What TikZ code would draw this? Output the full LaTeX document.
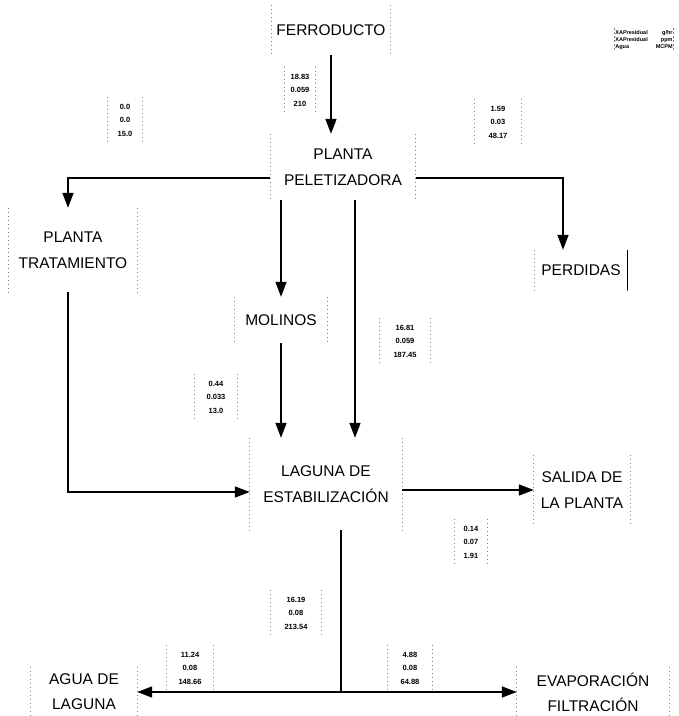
\documentclass[tikz,border=0pt]{standalone}
\usepackage{fontspec}
\setmainfont{Liberation Sans}
\usetikzlibrary{arrows.meta}
\tikzset{
  sidel/.style={draw=black!50, line width=0.7pt, dash pattern=on 1.5pt off 2.5pt},
  sides/.style={append after command={(\tikzlastnode.north west) edge[sidel] (\tikzlastnode.south west)
      (\tikzlastnode.north east) edge[sidel] (\tikzlastnode.south east)}},
  mainbox/.style={sides, align=center, font=\fontsize{15.5}{26}\selectfont, inner sep=0pt},
  val/.style={sides, align=center, font=\fontsize{7.5}{13.5}\selectfont\bfseries, inner sep=0pt, minimum height=46pt},
  tip/.tip={Triangle[length=15pt,width=11pt]},
  arr/.style={line width=1.7pt, -tip},
  arrtwo/.style={line width=1.7pt, tip-tip},
  plain/.style={line width=1.7pt},
}
\begin{document}
\begin{tikzpicture}[x=1pt,y=-1pt]
\useasboundingbox (0,0) rectangle (679,716);
% main boxes
\node[mainbox, minimum width=118pt, minimum height=50pt] (ferro) at (331,30) {FERRODUCTO};
\node[mainbox, minimum width=145pt, minimum height=66pt] (pel) at (343,167) {PLANTA\\PELETIZADORA};
\node[mainbox, minimum width=128pt, minimum height=84pt] (trat) at (73,250) {PLANTA\\TRATAMIENTO};
\node[mainbox, minimum width=92pt, minimum height=40pt] (perd) at (581,270) {PERDIDAS};
\draw[line width=1.2pt] (perd.north east) -- (perd.south east);
\node[mainbox, minimum width=92pt, minimum height=46pt] (mol) at (281,320) {MOLINOS};
\node[mainbox, minimum width=152pt, minimum height=92pt] (lag) at (326,484) {LAGUNA DE\\ESTABILIZACIÓN};
\node[mainbox, minimum width=96pt, minimum height=70pt] (sal) at (582,490) {SALIDA DE\\LA PLANTA};
\node[mainbox, font=\fontsize{15.5}{25}\selectfont, minimum width=106pt, minimum height=50pt] (agua) at (84,692) {AGUA DE\\LAGUNA};
\node[mainbox, font=\fontsize{15.5}{25}\selectfont, minimum width=152pt, minimum height=50pt] (evap) at (593,692) {EVAPORACIÓN\\FILTRACIÓN};
% legend
\node[sides, inner sep=1pt, font=\fontsize{5.5}{7}\selectfont\bfseries] (leg) at (644,40)
  {\begin{tabular}{@{}l@{\hspace{8pt}}r@{}}XAPresidual & g/hr\\ XAPresidual & ppm\\ Agua & MCPM\end{tabular}};
% values
\node[val, minimum width=30pt] (v1) at (300,90) {18.83\\0.059\\210};
\node[val, minimum width=34pt] (v2) at (125,120) {0.0\\0.0\\15.0};
\node[val, minimum width=46pt] (v3) at (498,122) {1.59\\0.03\\48.17};
\node[val, minimum width=50pt] (v4) at (405,341) {16.81\\0.059\\187.45};
\node[val, minimum width=42pt] (v5) at (216,397) {0.44\\0.033\\13.0};
\node[val, minimum width=33pt] (v6) at (471,542) {0.14\\0.07\\1.91};
\node[val, minimum width=50pt] (v7) at (296,613) {16.19\\0.08\\213.54};
\node[val, minimum width=46pt] (v8) at (190,668) {11.24\\0.08\\148.66};
\node[val, minimum width=44pt] (v9) at (410,668) {4.88\\0.08\\64.88};
% connectors
\draw[arr] (ferro.south) -- (ferro.south |- pel.north);
\draw[arr] ([yshift=-11pt]pel.west) -| ([xshift=-5pt]trat.north);
\draw[arr] ([yshift=-11pt]pel.east) -| ([xshift=-18pt]perd.north);
\draw[arr] (pel.south -| mol.north) -- (mol.north);
\draw[arr] ([xshift=12pt]pel.south) -- ([xshift=12pt]pel.south |- lag.north);
\draw[arr] (mol.south) -- (mol.south |- lag.north);
\draw[arr] ([xshift=-5pt]trat.south) |- ([yshift=-8pt]lag.west);
\draw[arr] (lag.east |- sal.west) -- (sal.west);
\draw[plain] ([xshift=15pt]lag.south) -- ([xshift=15pt]lag.south |- agua.east);
\draw[arrtwo] (agua.east) -- (evap.west);
\end{tikzpicture}
\end{document}
